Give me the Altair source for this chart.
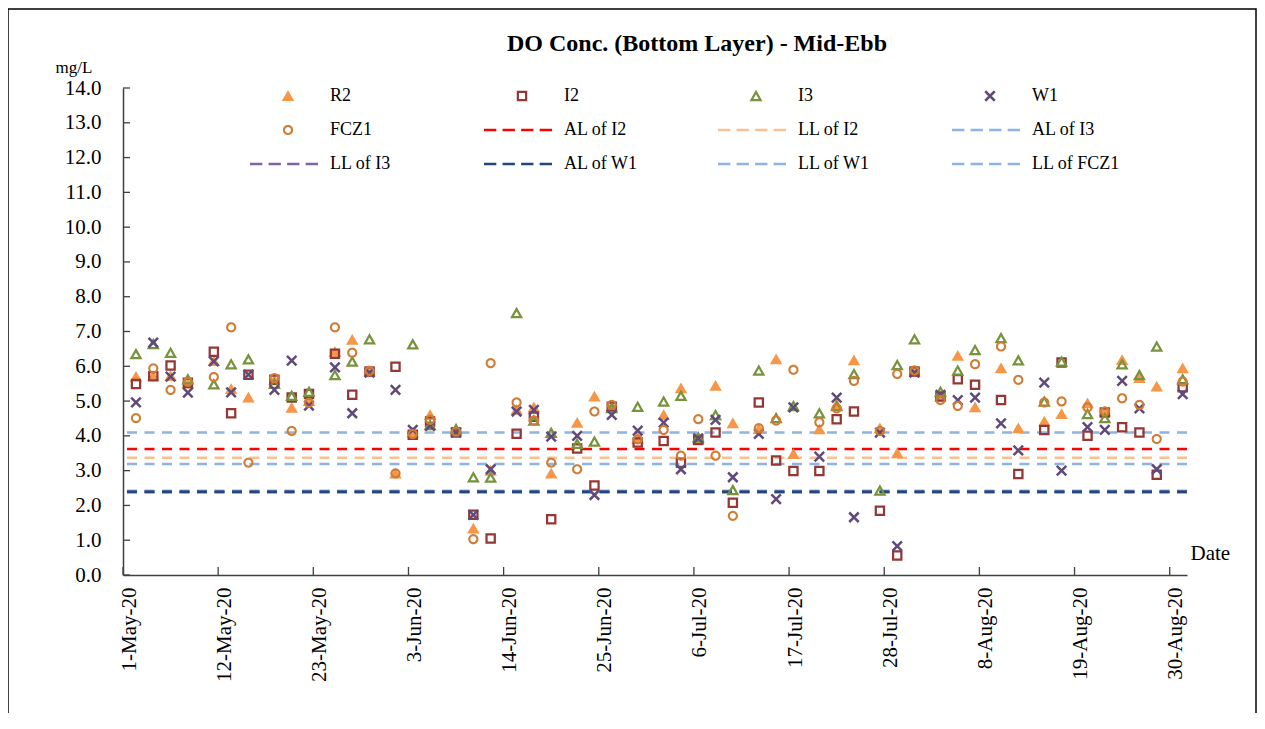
import math
import altair as alt
import pandas as pd

# ------------------------------------------------------------------ data
DATES = [
    "2020-05-02", "2020-05-04", "2020-05-06", "2020-05-08", "2020-05-11", "2020-05-13", "2020-05-15",
    "2020-05-18", "2020-05-20", "2020-05-22", "2020-05-25", "2020-05-27", "2020-05-29",
    "2020-06-01", "2020-06-03", "2020-06-05", "2020-06-08", "2020-06-10", "2020-06-12", "2020-06-15",
    "2020-06-17", "2020-06-19", "2020-06-22", "2020-06-24", "2020-06-26", "2020-06-29",
    "2020-07-02", "2020-07-04", "2020-07-06", "2020-07-08", "2020-07-10", "2020-07-13", "2020-07-15",
    "2020-07-17", "2020-07-20", "2020-07-22", "2020-07-24", "2020-07-27", "2020-07-29", "2020-07-31",
    "2020-08-03", "2020-08-05", "2020-08-07", "2020-08-10", "2020-08-12", "2020-08-15", "2020-08-17",
    "2020-08-20", "2020-08-22", "2020-08-24", "2020-08-26", "2020-08-28", "2020-08-31",
]

R2 = [5.70, 5.72, 5.72, 5.50, 6.15, 5.35, 5.10, 5.60, 4.81, 5.00, 6.42, 6.76, 5.85,
      2.92, 4.10, 4.60, 4.15, 1.34, 3.00, 4.75, 4.82, 2.92, 4.38, 5.13, 4.85, 3.92,
      4.60, 5.37, 3.90, 5.44, 4.36, 4.20, 6.20, 3.48, 4.19, 4.90, 6.17, 4.22, 3.50, 5.85,
      5.13, 6.30, 4.82, 5.94, 4.22, 4.41, 4.63, 4.94, 4.70, 6.18, 5.66, 5.42, 5.94]
I2 = [5.49, 5.71, 6.02, 5.53, 6.42, 4.65, 5.76, 5.61, 5.10, 5.20, 6.36, 5.18, 5.85,
      5.99, 4.03, 4.41, 4.10, 1.73, 1.05, 4.06, 4.55, 1.60, 3.64, 2.57, 4.84, 3.81,
      3.85, 3.23, 3.88, 4.10, 2.08, 4.96, 3.29, 2.99, 2.99, 4.48, 4.70, 1.85, 0.56, 5.85,
      5.13, 5.63, 5.47, 5.03, 2.90, 4.17, 6.11, 4.00, 4.67, 4.25, 4.10, 2.88, 5.40]
I3 = [6.35, 6.64, 6.39, 5.63, 5.48, 6.06, 6.20, 5.50, 5.15, 5.27, 5.75, 6.14, 6.78,
      None, 6.63, 4.31, 4.20, 2.81, 2.80, 7.53, 4.44, 4.09, 3.77, 3.84, 4.80, 4.84,
      4.99, 5.15, 3.96, 4.60, 2.44, 5.88, 4.51, 4.86, 4.65, 4.86, 5.78, 2.43, 6.04, 6.78,
      5.27, 5.88, 6.47, 6.81, 6.17, 4.99, 6.14, 4.63, 4.51, 6.06, 5.75, 6.57, 5.63]
W1 = [4.96, 6.68, 5.70, 5.24, 6.14, 5.25, 5.76, 5.32, 6.16, 4.87, 5.97, 4.65, 5.82,
      5.32, 4.17, 4.29, 4.10, 1.73, 3.04, 4.70, 4.75, 3.98, 4.00, 2.30, 4.60, 4.15,
      4.38, 3.04, 3.93, 4.46, 2.81, 4.06, 2.18, 4.82, 3.40, 5.10, 1.66, 4.09, 0.83, 5.82,
      5.18, 5.03, 5.10, 4.36, 3.58, 5.53, 3.00, 4.25, 4.17, 5.58, 4.79, 3.04, 5.20]
FCZ1 = [4.51, 5.94, 5.32, 5.55, 5.69, 7.12, 3.23, 5.66, 4.14, 4.95, 7.12, 6.39, 5.87,
        2.92, 4.05, 4.46, 4.12, 1.03, 6.09, 4.96, 4.44, 3.23, 3.04, 4.70, 4.89, 3.90,
        4.17, 3.43, 4.48, 3.43, 1.70, 4.22, 4.44, 5.90, 4.39, 4.79, 5.58, 4.14, 5.78, 5.88,
        5.03, 4.86, 6.06, 6.57, 5.61, 4.96, 4.99, 4.82, 4.70, 5.08, 4.89, 3.91, 5.56]

POINT_SERIES = ["R2", "I2", "I3", "W1", "FCZ1"]
POINT_VALUES = [R2, I2, I3, W1, FCZ1]
POINT_COLORS = ["#F79646", "#953735", "#77933C", "#604A7B", "#D07C34"]

LINE_SERIES = ["AL of I2", "LL of I2", "AL of I3", "LL of I3", "AL of W1", "LL of W1", "LL of FCZ1"]
LINE_LEVELS = [3.62, 3.37, 4.10, 2.39, 2.39, 3.19, 2.39]
LINE_COLORS = ["#FF0000", "#FAC090", "#8DB4E2", "#8064A2", "#1F497D", "#8DB4E2", "#8DB4E2"]
LINE_WIDTHS = [2.5, 2.5, 2.5, 2.5, 2.5, 2.5, 4.5]
LINE_DRAW_ORDER = ["AL of I3", "LL of W1", "LL of I2", "AL of I2", "LL of FCZ1", "LL of I3", "AL of W1"]

X_START = "2020-05-01"
X_END = "2020-09-01"
X_TICKS = ["2020-05-01", "2020-05-12", "2020-05-23", "2020-06-03", "2020-06-14", "2020-06-25",
           "2020-07-06", "2020-07-17", "2020-07-28", "2020-08-08", "2020-08-19", "2020-08-30"]
Y_TICKS = [0.0, 1.0, 2.0, 3.0, 4.0, 5.0, 6.0, 7.0, 8.0, 9.0, 10.0, 11.0, 12.0, 13.0, 14.0]

TITLE = "DO Conc. (Bottom Layer) - Mid-Ebb"
FONT = "Liberation Serif"

# ------------------------------------------------------------------ marker shapes (SVG paths)
PAD = " M-7.6,0 L-7.6,0 M6.0,0 L6.0,0"


def ring(r_out, r_in, n=28):
    outer = [(r_out * math.cos(2 * math.pi * k / n), r_out * math.sin(2 * math.pi * k / n)) for k in range(n)]
    inner = [(r_in * math.cos(-2 * math.pi * k / n), r_in * math.sin(-2 * math.pi * k / n)) for k in range(n)]

    def poly(pts):
        return "M" + " L".join(f"{x:.3f},{y:.3f}" for x, y in pts) + " Z"

    return poly(outer) + " " + poly(inner)


SHAPE_PATHS = {
    "R2": "M0,-1.15 L1.25,1.0 L-1.25,1.0 Z" + PAD,
    "I2": "M-1.05,-1.05 H1.05 V1.05 H-1.05 Z M-0.6,-0.6 V0.6 H0.6 V-0.6 Z" + PAD,
    "I3": "M0,-1.25 L1.3,1.05 L-1.3,1.05 Z M0,-0.335 L-0.53,0.6 L0.53,0.6 Z" + PAD,
    "W1": "M-0.773,-1.127 L1.127,0.773 L0.773,1.127 L-1.127,-0.773 Z "
          "M1.127,-0.773 L-0.773,1.127 L-1.127,0.773 L0.773,-1.127 Z" + PAD,
    "FCZ1": ring(1.02, 0.6) + PAD,
}
DASH_PATH = ("M-7.6,-0.25 H-5.13 V0.25 H-7.6 Z M-3.89,-0.25 H-1.42 V0.25 H-3.89 Z "
             "M-0.18,-0.25 H2.29 V0.25 H-0.18 Z M3.53,-0.25 H6.0 V0.25 H3.53 Z")

ALL_NAMES = POINT_SERIES + LINE_SERIES
ALL_COLORS = POINT_COLORS + LINE_COLORS
ALL_SHAPES = [SHAPE_PATHS[s] for s in POINT_SERIES] + [DASH_PATH] * len(LINE_SERIES)

# ------------------------------------------------------------------ tables
rows = []
for name, vals in zip(POINT_SERIES, POINT_VALUES):
    for d, v in zip(DATES, vals):
        if v is not None:
            rows.append({"series": name, "date": d + "T12:00:00", "value": v})
points_df = pd.DataFrame(rows)

line_info = {n: (lv, c, w) for n, lv, c, w in zip(LINE_SERIES, LINE_LEVELS, LINE_COLORS, LINE_WIDTHS)}
lines_df = pd.DataFrame([
    {"series": n, "value": line_info[n][0], "col": line_info[n][1], "w": line_info[n][2]}
    for n in LINE_DRAW_ORDER
])
xticks_df = pd.DataFrame({"date": [d + "T00:00:00" for d in X_TICKS]})
yticks_df = pd.DataFrame({"value": Y_TICKS})


def dt(s):
    y, m, d = (int(p) for p in s.split("-"))
    return alt.DateTime(year=y, month=m, date=d)


W, H = 1064, 487
AXIS_COLOR = "#404040"

x_scale = alt.Scale(domain=[dt(X_START), dt(X_END)])
y_scale = alt.Scale(domain=[0, 14], nice=False, zero=True)

legend = alt.Legend(
    title=None, orient="none", legendX=156, legendY=-1, columns=4, direction="horizontal",
    gridAlign="all", symbolSize=100, symbolStrokeWidth=0, symbolOpacity=1,
    labelFont=FONT, labelFontSize=18, labelColor="black", labelOffset=33, labelLimit=400,
    columnPadding=66, rowPadding=16, padding=0,
)

x_axis = alt.Axis(
    values=[dt(s) for s in X_TICKS], format="%-d-%b-%y", labelAngle=-90, ticks=False, grid=False,
    domainColor=AXIS_COLOR, domainWidth=1.5, labelFont=FONT, labelFontSize=21, labelColor="black",
    labelPadding=12, labelOffset=6, labelFlush=False, labelOverlap=False, labelBound=False,
    title="Date", titleFont=FONT, titleFontSize=21, titleFontWeight="normal", titleColor="black",
    titleAngle=0, titleAlign="left", titleBaseline="alphabetic", titleX=1067, titleY=-16, zindex=1,
)
y_axis = alt.Axis(
    values=Y_TICKS, format=".1f", ticks=False, grid=False, domainColor=AXIS_COLOR, domainWidth=1.5,
    labelFont=FONT, labelFontSize=21, labelColor="black", labelPadding=22,
    title="mg/L", titleFont=FONT, titleFontSize=17, titleFontWeight="normal", titleColor="black",
    titleAngle=0, titleAlign="left", titleBaseline="alphabetic", titleX=-68, titleY=-16, zindex=1,
)

# every layer carries the same axis definition so that the shared axes merge cleanly
level_lines = alt.Chart(lines_df).mark_rule(strokeDash=[10, 7.5]).encode(
    y=alt.Y("value:Q", scale=y_scale, axis=y_axis),
    stroke=alt.Stroke("col:N", scale=None),
    strokeWidth=alt.StrokeWidth("w:Q", scale=None),
)

points = alt.Chart(points_df).mark_point(filled=True, size=100, opacity=1, strokeWidth=0).encode(
    x=alt.X("date:T", scale=x_scale, axis=x_axis),
    y=alt.Y("value:Q", scale=y_scale, axis=y_axis),
    color=alt.Color("series:N", scale=alt.Scale(domain=ALL_NAMES, range=ALL_COLORS), legend=legend),
    shape=alt.Shape("series:N", scale=alt.Scale(domain=ALL_NAMES, range=ALL_SHAPES), legend=legend),
)

y_ticks = alt.Chart(yticks_df).mark_rule(color=AXIS_COLOR, strokeWidth=1.3).encode(
    y=alt.Y("value:Q", scale=y_scale, axis=y_axis), x=alt.value(0), x2=alt.value(7)
)
x_ticks = alt.Chart(xticks_df).mark_rule(color=AXIS_COLOR, strokeWidth=1.3).encode(
    x=alt.X("date:T", scale=x_scale, axis=x_axis), y=alt.value(H), y2=alt.value(H - 8)
)

border = alt.Chart(pd.DataFrame({"k": [0]})).mark_rect(
    fillOpacity=0, stroke="#000000", strokeWidth=1.5
).encode(x=alt.value(-115), x2=alt.value(W + 69), y=alt.value(-79), y2=alt.value(H + 300))

chart = alt.layer(level_lines, points, y_ticks, x_ticks, border).properties(
    width=W, height=H,
    padding={"left": 115, "top": 80, "right": 70, "bottom": 138},
    autosize=alt.AutoSizeParams(type="none"),
    title=alt.TitleParams(text=TITLE, font=FONT, fontSize=24, fontWeight="bold", color="black",
                          anchor="middle", dx=42, offset=-67, baseline="alphabetic"),
).configure(background="white").configure_view(stroke=None)

chart.save("out.html", embed_options={"renderer": "svg", "actions": False})
